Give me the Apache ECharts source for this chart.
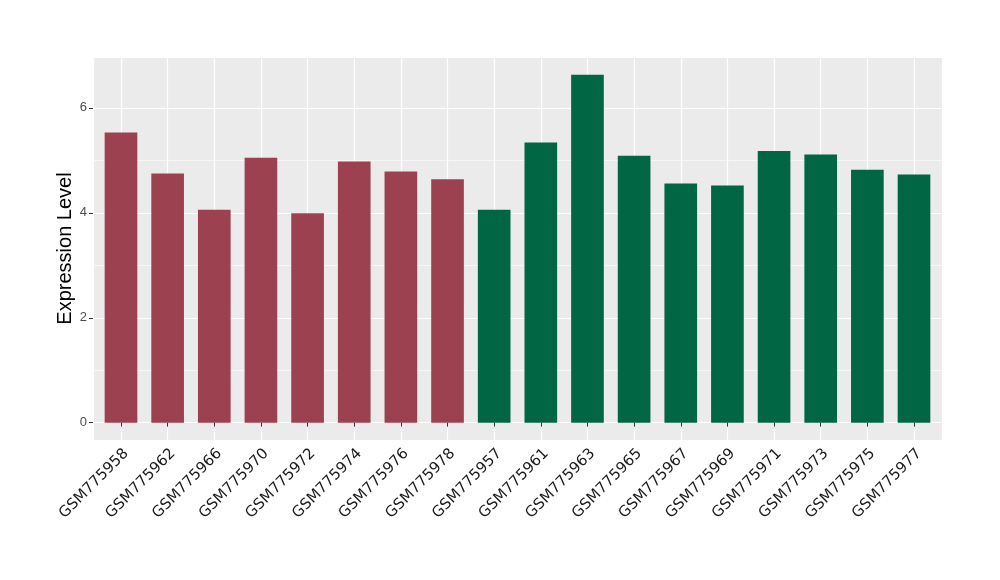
<!DOCTYPE html>
<html><head><meta charset="utf-8">
<script src="https://cdn.jsdelivr.net/npm/echarts@6/dist/echarts.min.js"></script>
<style>html,body{margin:0;padding:0;background:#fff}#c{width:1000px;height:580px}</style>
</head><body><div id="c"></div>
<script>
const categories = ["GSM775958","GSM775962","GSM775966","GSM775970","GSM775972","GSM775974","GSM775976","GSM775978","GSM775957","GSM775961","GSM775963","GSM775965","GSM775967","GSM775969","GSM775971","GSM775973","GSM775975","GSM775977"];
const values = [5.53,4.75,4.06,5.05,3.99,4.98,4.79,4.64,4.06,5.34,6.63,5.09,4.56,4.52,5.18,5.11,4.82,4.73];
const groups = ["A","A","A","A","A","A","A","A","B","B","B","B","B","B","B","B","B","B"];
const groupColors = {A:"#9B4150", B:"#006644"};
const yName = "Expression Level";

const chart = echarts.init(document.getElementById('c'), null, {renderer:'canvas'});
chart.setOption({
  animation:false,
  backgroundColor:'#fff',
  grid:{left:93,right:58,top:57,bottom:140,show:true,backgroundColor:'#EBEBEB',borderWidth:0},
  xAxis:{
    type:'value', min:0.4, max:categories.length+0.6, minInterval:1, maxInterval:1,
    axisLine:{show:false},
    axisTick:{show:true,length:4,lineStyle:{color:'#333',width:1}},
    splitLine:{show:true,lineStyle:{color:'#fff',width:1.2}},
    axisLabel:{rotate:45,fontSize:15,color:'#1a1a1a',fontFamily:'DejaVu Sans, sans-serif',margin:6,
      verticalAlign:'top',
      showMinLabel:false,showMaxLabel:false,
      formatter:function(v){const i=Math.round(v)-1;return (Math.abs(v-Math.round(v))<1e-6 && categories[i])?categories[i]:'';}}
  },
  yAxis:{
    type:'value', min:-0.33, max:6.97, minInterval:2, maxInterval:2,
    name:yName, nameLocation:'middle', nameGap:18, nameMoveOverlap:false,
    nameTextStyle:{fontSize:20,color:'#000',fontFamily:'Liberation Sans, Arial, sans-serif'},
    axisLine:{show:false},
    axisTick:{show:true,length:4,lineStyle:{color:'#333'}},
    axisLabel:{fontSize:13,color:'#4d4d4d',showMinLabel:false,showMaxLabel:false,fontFamily:'Liberation Sans, Arial, sans-serif',margin:6},
    splitLine:{show:true,lineStyle:{color:'#fff',width:1.2}},
    minorTick:{show:false,splitNumber:2},
    minorSplitLine:{show:true,lineStyle:{color:'#fff',width:0.6}}
  },
  series:[{
    type:'bar', barWidth:'70%',
    data: values.map((v,i)=>({value:[i+1,v],itemStyle:{color:groupColors[groups[i]]}}))
  }]
});
</script></body></html>
